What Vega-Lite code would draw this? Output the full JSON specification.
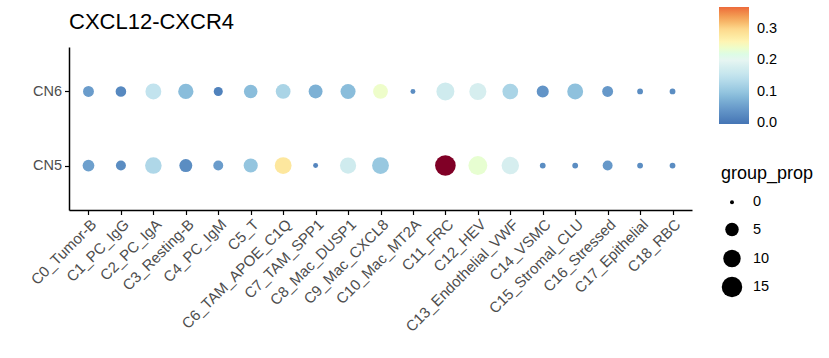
{
  "$schema": "https://vega.github.io/schema/vega-lite/v6.json",
  "width": 623,
  "height": 163,
  "autosize": "none",
  "padding": {"left": 69, "top": 47, "right": 137, "bottom": 148},
  "background": "white",
  "title": {"text": "CXCL12-CXCR4", "anchor": "start", "frame": "group", "fontSize": 22, "font": "Liberation Sans", "fontWeight": "normal", "color": "black", "offset": 14, "dy": 41},
  "data": {"values": [
    {"cluster": "C0_Tumor-B", "group": "CN6", "ratio": 0.05, "prop": 2.64},
    {"cluster": "C1_PC_IgG", "group": "CN6", "ratio": 0.025, "prop": 2.44},
    {"cluster": "C2_PC_IgA", "group": "CN6", "ratio": 0.15, "prop": 7.9},
    {"cluster": "C3_Resting-B", "group": "CN6", "ratio": 0.09, "prop": 7.1},
    {"cluster": "C4_PC_IgM", "group": "CN6", "ratio": 0.015, "prop": 1.46},
    {"cluster": "C5_T", "group": "CN6", "ratio": 0.09, "prop": 5.06},
    {"cluster": "C6_TAM_APOE_C1Q", "group": "CN6", "ratio": 0.125, "prop": 6.46},
    {"cluster": "C7_TAM_SPP1", "group": "CN6", "ratio": 0.075, "prop": 5.44},
    {"cluster": "C8_Mac_DUSP1", "group": "CN6", "ratio": 0.09, "prop": 6.78},
    {"cluster": "C9_Mac_CXCL8", "group": "CN6", "ratio": 0.24, "prop": 6.46},
    {"cluster": "C10_Mac_MT2A", "group": "CN6", "ratio": 0.03, "prop": 0.1},
    {"cluster": "C11_FRC", "group": "CN6", "ratio": 0.17, "prop": 10.8},
    {"cluster": "C12_HEV", "group": "CN6", "ratio": 0.18, "prop": 9.5},
    {"cluster": "C13_Endothelial_VWF", "group": "CN6", "ratio": 0.125, "prop": 7.56},
    {"cluster": "C14_VSMC", "group": "CN6", "ratio": 0.04, "prop": 3.67},
    {"cluster": "C15_Stromal_CLU", "group": "CN6", "ratio": 0.095, "prop": 7.9},
    {"cluster": "C16_Stressed", "group": "CN6", "ratio": 0.045, "prop": 2.64},
    {"cluster": "C17_Epithelial", "group": "CN6", "ratio": 0.03, "prop": 0.21},
    {"cluster": "C18_RBC", "group": "CN6", "ratio": 0.03, "prop": 0.21},
    {"cluster": "C0_Tumor-B", "group": "CN5", "ratio": 0.055, "prop": 3.36},
    {"cluster": "C1_PC_IgG", "group": "CN5", "ratio": 0.03, "prop": 2.0},
    {"cluster": "C2_PC_IgA", "group": "CN5", "ratio": 0.13, "prop": 8.75},
    {"cluster": "C3_Resting-B", "group": "CN5", "ratio": 0.03, "prop": 4.5},
    {"cluster": "C4_PC_IgM", "group": "CN5", "ratio": 0.05, "prop": 2.0},
    {"cluster": "C5_T", "group": "CN5", "ratio": 0.1, "prop": 5.74},
    {"cluster": "C6_TAM_APOE_C1Q", "group": "CN5", "ratio": 0.28, "prop": 9.13},
    {"cluster": "C7_TAM_SPP1", "group": "CN5", "ratio": 0.02, "prop": 0.1},
    {"cluster": "C8_Mac_DUSP1", "group": "CN5", "ratio": 0.17, "prop": 8.27},
    {"cluster": "C9_Mac_CXCL8", "group": "CN5", "ratio": 0.105, "prop": 9.13},
    {"cluster": "C11_FRC", "group": "CN5", "ratio": 0.55, "prop": 15.3},
    {"cluster": "C12_HEV", "group": "CN5", "ratio": 0.235, "prop": 12.25},
    {"cluster": "C13_Endothelial_VWF", "group": "CN5", "ratio": 0.18, "prop": 10.0},
    {"cluster": "C14_VSMC", "group": "CN5", "ratio": 0.03, "prop": 0.21},
    {"cluster": "C15_Stromal_CLU", "group": "CN5", "ratio": 0.03, "prop": 0.21},
    {"cluster": "C16_Stressed", "group": "CN5", "ratio": 0.045, "prop": 2.0},
    {"cluster": "C17_Epithelial", "group": "CN5", "ratio": 0.03, "prop": 0.21},
    {"cluster": "C18_RBC", "group": "CN5", "ratio": 0.03, "prop": 0.21}
  ]},
  "encoding": {
    "x": {
      "field": "cluster", "type": "nominal",
      "sort": ["C0_Tumor-B", "C1_PC_IgG", "C2_PC_IgA", "C3_Resting-B", "C4_PC_IgM", "C5_T", "C6_TAM_APOE_C1Q", "C7_TAM_SPP1", "C8_Mac_DUSP1", "C9_Mac_CXCL8", "C10_Mac_MT2A", "C11_FRC", "C12_HEV", "C13_Endothelial_VWF", "C14_VSMC", "C15_Stromal_CLU", "C16_Stressed", "C17_Epithelial", "C18_RBC"],
      "scale": {"type": "point", "padding": 0.6},
      "axis": {"title": null, "labelAngle": -45, "labelFontSize": 15, "labelFont": "Liberation Sans", "labelColor": "#4d4d4d", "domainColor": "black", "domainWidth": 1.5, "tickColor": "black", "tickWidth": 1.2, "tickSize": 4.5, "labelPadding": 2, "grid": false}
    },
    "y": {
      "field": "group", "type": "nominal",
      "sort": ["CN6", "CN5"],
      "scale": {"type": "point", "padding": 0.6},
      "axis": {"title": null, "labelFontSize": 14.5, "labelFont": "Liberation Sans", "labelColor": "#4d4d4d", "domainColor": "black", "domainWidth": 1.5, "tickColor": "black", "tickWidth": 1.2, "tickSize": 4.5, "labelPadding": 3, "grid": false}
    },
    "size": {
      "field": "prop", "type": "quantitative",
      "scale": {"domain": [0, 0.25, 1, 2.5, 5, 10, 15, 20], "range": [15.9, 37.4, 67.9, 114.8, 182.2, 304.2, 418.7, 529.7]},
      "legend": {"title": "group_prop", "orient": "none", "legendX": 652, "legendY": 118, "values": [0, 5, 10, 15], "titleFontSize": 18, "titleFont": "Liberation Sans", "titleFontWeight": "normal", "titleColor": "black", "labelFontSize": 14.5, "labelFont": "Liberation Sans", "labelColor": "black", "symbolType": "circle", "symbolFillColor": "black", "symbolStrokeColor": "transparent", "symbolOpacity": 1, "gridAlign": "all", "rowPadding": -1, "titlePadding": 12, "labelOffset": 10}
    }
  },
  "layer": [
    {
      "transform": [{"filter": "datum.ratio <= 0.4"}],
      "mark": {"type": "circle", "opacity": 1},
      "encoding": {
        "color": {
          "field": "ratio", "type": "quantitative",
          "scale": {"domain": [-0.002, 0.05, 0.1, 0.15, 0.2, 0.25, 0.3, 0.37], "range": ["#4575b4", "#6a9ccb", "#94c5df", "#c2e3ee", "#e6f5f2", "#fffbbd", "#fdd88c", "#ec6a3c"]},
          "legend": {"title": null, "orient": "none", "legendX": 650, "legendY": -40, "direction": "vertical", "gradientLength": 117, "gradientThickness": 30, "gradientStrokeWidth": 0, "values": [0, 0.1, 0.2, 0.3], "format": ".1f", "labelFontSize": 14.5, "labelFont": "Liberation Sans", "labelColor": "black", "labelOffset": 8, "labelBaseline": "middle"}
        }
      }
    },
    {
      "transform": [{"filter": "datum.ratio > 0.4"}],
      "mark": {"type": "circle", "opacity": 1},
      "encoding": {
        "color": {"field": "ratio", "type": "quantitative", "scale": {"domain": [0.4, 1], "range": ["#800026", "#800026"]}, "legend": null}
      }
    }
  ],
  "resolve": {"scale": {"color": "independent"}, "legend": {"color": "independent"}},
  "config": {"view": {"stroke": null}, "legend": {"symbolFillColor": "black"}}
}
